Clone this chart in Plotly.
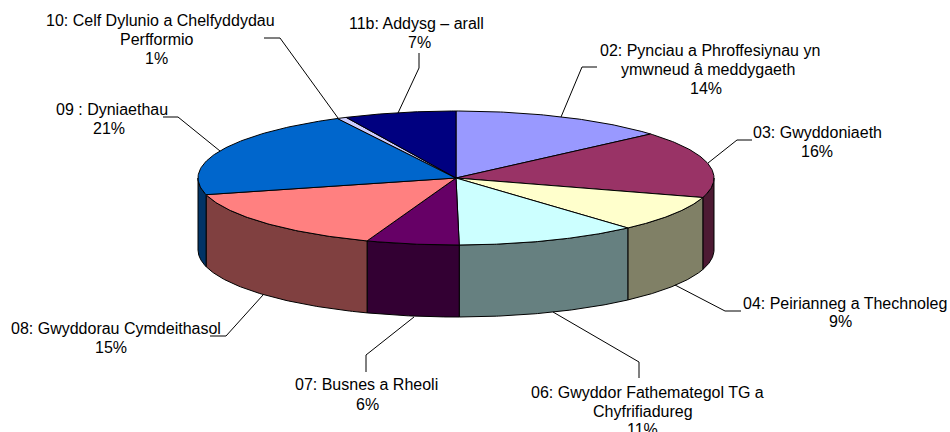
import numpy as np
import plotly.graph_objects as go

categories = [["02: Pynciau a Phroffesiynau yn", "ymwneud â meddygaeth"], ["03: Gwyddoniaeth"],
              ["04: Peirianneg a Thechnoleg"], ["06: Gwyddor Fathemategol TG a", "Chyfrifiadureg"],
              ["07: Busnes a Rheoli"], ["08: Gwyddorau Cymdeithasol"], ["09 : Dyniaethau"],
              ["10: Celf Dylunio a Chelfyddydau", "Perfformio"], ["11b: Addysg – arall"]]
shares = [13.6, 16.1, 8.7, 11.4, 5.8, 15.4, 21.4, 0.6, 7.0]
top_colors = ["#9999FF", "#993366", "#FFFFCC", "#CCFFFF", "#660066", "#FF8080", "#0066CC", "#CCCCFF", "#000080"]
side_colors = ["#4D4D80", "#4D1A33", "#808066", "#668080", "#330033", "#804040", "#003366", "#666680", "#000040"]
# x,y of the centre of each text line of each label (last entry is the percentage line)
label_pos = [[(710, 50), (708, 69), (706, 88)], [(817, 132), (817, 151)], [(845, 303), (840, 321)],
             [(647, 392), (643, 411), (642, 429)], [(366, 384), (367, 404)], [(116, 328), (111, 347)],
             [(112, 109), (109, 128)], [(160, 20), (157, 39), (156, 58)], [(416, 23), (419, 42)]]
leaders = [[(561, 117), (582, 67), (597, 67)], [(708, 163), (737, 140), (752, 140)], [(675, 285), (725, 311), (741, 311)],
           [(553, 312), (639, 362), (639, 378)], [(414, 317), (366, 355), (366, 372)], [(263, 295), (226, 336), (210, 336)],
           [(220, 151), (178, 117), (163, 117)], [(338, 118), (280, 38), (264, 38)], [(398, 113), (419, 68), (419, 53)]]

CX, CY, RX, RY, DEPTH = 456, 178, 258, 67, 72

def px(theta_deg, dy=0):
    t = np.radians(theta_deg)
    return CX + RX * np.sin(t), CY - RY * np.cos(t) + dy

fig = go.Figure()
def poly(x, y, fill):
    fig.add_trace(go.Scatter(x=list(x), y=list(y), mode="lines", fill="toself", fillcolor=fill,
                             line=dict(color="#000000", width=1), hoverinfo="skip", showlegend=False))

edges = np.cumsum([0] + shares) * 3.6
# Side walls, only the front half of the disc is visible
for i in range(len(shares)):
    a, b = max(edges[i], 90), min(edges[i + 1], 270)
    if b <= a:
        continue
    th = np.linspace(a, b, 80)
    x1, y1 = px(th)
    x2, y2 = px(th[::-1], DEPTH)
    poly(np.r_[x1, x2, x1[0]], np.r_[y1, y2, y1[0]], side_colors[i])
# Top wedges
for i in range(len(shares)):
    th = np.linspace(edges[i], edges[i + 1], 80)
    x1, y1 = px(th)
    poly(np.r_[CX, x1, CX], np.r_[CY, y1, CY], top_colors[i])
# Leader lines
for pts in leaders:
    fig.add_trace(go.Scatter(x=[p[0] for p in pts], y=[p[1] for p in pts], mode="lines",
                             line=dict(color="#000000", width=1), hoverinfo="skip", showlegend=False))

annotations = []
for lines, s, pos in zip(categories, shares, label_pos):
    for text, (x, y) in zip(lines + [f"{round(s)}%"], pos):
        annotations.append(dict(x=x, y=y, xref="x", yref="y", text=text, showarrow=False,
                                xanchor="center", yanchor="middle",
                                font=dict(family="Liberation Sans, Arial, sans-serif", size=16, color="#000000")))

fig.update_layout(width=950, height=432, margin=dict(l=0, r=0, t=0, b=0),
                  paper_bgcolor="white", plot_bgcolor="white", showlegend=False,
                  xaxis=dict(range=[0, 950], visible=False, fixedrange=True),
                  yaxis=dict(range=[432, 0], visible=False, fixedrange=True),
                  annotations=annotations)
fig.write_html("out.html", config=dict(displayModeBar=False),
               post_script="document.body.style.margin='0';document.body.style.overflow='hidden';")
